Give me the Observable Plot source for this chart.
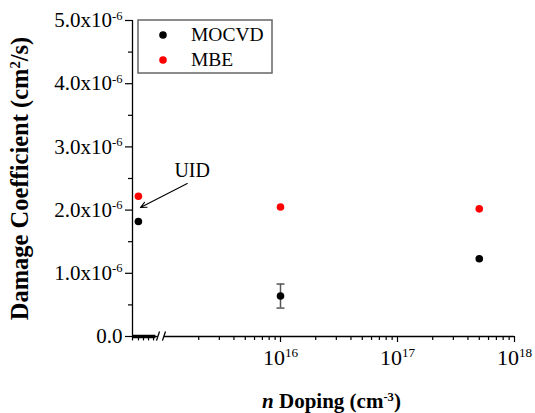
<!DOCTYPE html>
<html><head><meta charset="utf-8">
<script src="https://cdn.jsdelivr.net/npm/d3@7"></script>
<script src="https://cdn.jsdelivr.net/npm/@observablehq/plot@0.6"></script>
<style>
body{margin:0;background:#fff}
#chart svg, #chart svg text, #chart svg tspan{font-family:"Liberation Serif","Times New Roman",serif !important}
</style>
</head><body><div id="chart"></div>
<script>
// ---- data ----
const series = ["MOCVD", "MBE"];
const seriesColors = ["black", "red"];
const dopingLabels = ["UID", "1e16", "5e17"];
// UID samples are drawn in the broken-axis segment left of the break
const doping = [6.1e14, 1e16, 5e17];
const mocvd = [1.82e-6, 0.64e-6, 1.23e-6];
const mbe = [2.22e-6, 2.05e-6, 2.02e-6];
const mocvdErrLow = [null, 0.45e-6, null];
const mocvdErrHigh = [null, 0.83e-6, null];

const yTicks = [0, 1e-6, 2e-6, 3e-6, 4e-6, 5e-6];
const yTickLabels = ["0.0", "1.0x10^{-6}", "2.0x10^{-6}", "3.0x10^{-6}", "4.0x10^{-6}", "5.0x10^{-6}"];
const yMinorTicks = [0.5e-6, 1.5e-6, 2.5e-6, 3.5e-6, 4.5e-6];
const xTicks = [1e16, 1e17, 1e18];
const xTickLabels = ["10^{16}", "10^{17}", "10^{18}"];
const xMinorTicks = [2e15,3e15,4e15,5e15,6e15,7e15,8e15,9e15,
                     2e16,3e16,4e16,5e16,6e16,7e16,8e16,9e16,
                     2e17,3e17,4e17,5e17,6e17,7e17,8e17,9e17];

const xTitle = "*n* Doping (cm^{-3})";
const yTitle = "Damage Coefficient (cm^{2}/s)";
const annotation = "UID";

// ---- tables ----
const points = [];
dopingLabels.forEach((lab, i) => {
  points.push({sample: lab, doping: doping[i], value: mocvd[i], series: series[0]});
  points.push({sample: lab, doping: doping[i], value: mbe[i], series: series[1]});
});
const errs = dopingLabels.map((lab, i) => ({doping: doping[i], lo: mocvdErrLow[i], hi: mocvdErrHigh[i]}))
  .filter(d => d.lo != null);
const caps = errs.flatMap(d => [{doping: d.doping, v: d.lo}, {doping: d.doping, v: d.hi}]);

// decoration of the axis break (in data units)
const xMin = 10 ** 14.735;
const breakEnd = 10 ** 14.935;
const breakTicks = [14.735, 14.786, 14.829, 14.872, 14.915].map(e => 10 ** e);
const slashes = [
  {x1: 10 ** 14.940, x2: 10 ** 14.966},
  {x1: 10 ** 14.991, x2: 10 ** 15.017}
];
const arrowData = [{x1: 10 ** 15.203, y1: 2.42e-6, x2: 10 ** 14.803, y2: 2.04e-6}];

const capSymbol = {
  draw(ctx, size) { const w = 4; ctx.moveTo(-w, 0); ctx.lineTo(w, 0); }
};
const FONT = "Liberation Serif, Times New Roman, serif";

const plot = Plot.plot({
  width: 535, height: 413,
  marginLeft: 132, marginRight: 21, marginTop: 20, marginBottom: 77,
  style: {fontFamily: FONT, fontSize: "21px", background: "white", color: "black", overflow: "visible"},
  x: {type: "log", domain: [xMin, 1e18], label: null},
  y: {domain: [0, 5e-6], label: null},
  color: {domain: series, range: seriesColors},
  marks: [
    // y axis
    Plot.axisY({ticks: yMinorTicks, tickSize: 4, tickFormat: () => "", label: null, strokeWidth: 1.2}),
    Plot.axisY({ticks: yTicks, tickSize: 7, tickPadding: 3, fontSize: 21, label: null, strokeWidth: 1.2,
      tickFormat: d => yTickLabels[yTicks.indexOf(d)]}),
    Plot.ruleX([xMin], {stroke: "black", strokeWidth: 1.3}),
    // x axis
    Plot.axisX({ticks: xMinorTicks, tickSize: 4, tickFormat: () => "", label: null, strokeWidth: 1.2}),
    Plot.axisX({ticks: xTicks, tickSize: 6, tickPadding: 7, fontSize: 22, label: null, strokeWidth: 1.2,
      tickFormat: d => xTickLabels[xTicks.indexOf(d)]}),
    Plot.ruleY([0], {x1: xMin, x2: 10 ** 14.952, stroke: "black", strokeWidth: 1.3}),
    Plot.ruleY([0], {x1: 10 ** 15.005, x2: 1e18, stroke: "black", strokeWidth: 1.3}),
    // broken segment
    Plot.ruleY([0], {x1: xMin, x2: breakEnd, stroke: "black", strokeWidth: 3.5}),
    Plot.ruleX(breakTicks, {y1: 0, y2: -0.07e-6, stroke: "black", strokeWidth: 1.2}),
    Plot.link(slashes, {x1: "x1", x2: "x2", y1: -0.065e-6, y2: 0.08e-6, stroke: "black", strokeWidth: 1.3}),
    // error bars
    Plot.ruleX(errs, {x: "doping", y1: "lo", y2: "hi", stroke: "#555", strokeWidth: 1.5}),
    Plot.dot(caps, {x: "doping", y: "v", symbol: capSymbol, stroke: "#555", strokeWidth: 1.5, fill: "none"}),
    // data
    Plot.dot(points, {x: "doping", y: "value", fill: "series", r: 3.8}),
    // annotation
    Plot.arrow(arrowData, {x1: "x1", y1: "y1", x2: "x2", y2: "y2", stroke: "black", strokeWidth: 1.1, headLength: 9, headAngle: 50}),
    Plot.text([annotation], {x: 10 ** 15.245, y: 2.63e-6, fontSize: 20, textAnchor: "middle", lineAnchor: "middle"}),
    // titles
    Plot.text([yTitle], {frameAnchor: "left", dx: -112, dy: 0, rotate: -90, textAnchor: "middle", lineAnchor: "middle", fontWeight: "bold", fontSize: 24.5}),
    Plot.text([xTitle], {frameAnchor: "bottom", dx: 8, dy: 65, textAnchor: "middle", lineAnchor: "middle", fontWeight: "bold", fontSize: 21})
  ]
});

document.getElementById("chart").appendChild(plot);

// legend inside the plot
const svg = d3.select(plot);
const lg = svg.append("g").attr("font-family", FONT).attr("font-size", 19.5).attr("text-anchor", "start");
lg.append("rect").attr("x", 138).attr("y", 20).attr("width", 134).attr("height", 53)
  .attr("fill", "white").attr("stroke", "#666").attr("stroke-width", 1.5);
series.forEach((s, i) => {
  lg.append("circle").attr("cx", 163).attr("cy", 35 + i * 25).attr("r", 3.8).attr("fill", seriesColors[i]);
  lg.append("text").attr("x", 191).attr("y", 41 + i * 25).attr("fill", "black").text(s);
});

// rich text: ^{sup} and *italic*
function richify(root) {
  root.querySelectorAll("text").forEach(el => {
    const s = el.textContent;
    if (!/\^\{|\*/.test(s)) return;
    const fs = parseFloat(getComputedStyle(el).fontSize);
    const parts = s.split(/(\^\{[^}]*\}|\*[^*]+\*)/).filter(p => p !== "");
    while (el.firstChild) el.removeChild(el.firstChild);
    let cur = 0;
    for (const p of parts) {
      const ts = document.createElementNS("http://www.w3.org/2000/svg", "tspan");
      if (p.startsWith("^{")) {
        ts.textContent = p.slice(2, -1);
        ts.setAttribute("font-size", (fs * 0.6) + "px");
        const target = -fs * 0.36;
        ts.setAttribute("dy", target - cur);
        cur = target;
      } else {
        if (p.startsWith("*")) { ts.textContent = p.slice(1, -1); ts.setAttribute("font-style", "italic"); }
        else ts.textContent = p;
        if (cur !== 0) { ts.setAttribute("dy", -cur); cur = 0; }
      }
      el.appendChild(ts);
    }
  });
}
richify(plot);
</script>
</body></html>
